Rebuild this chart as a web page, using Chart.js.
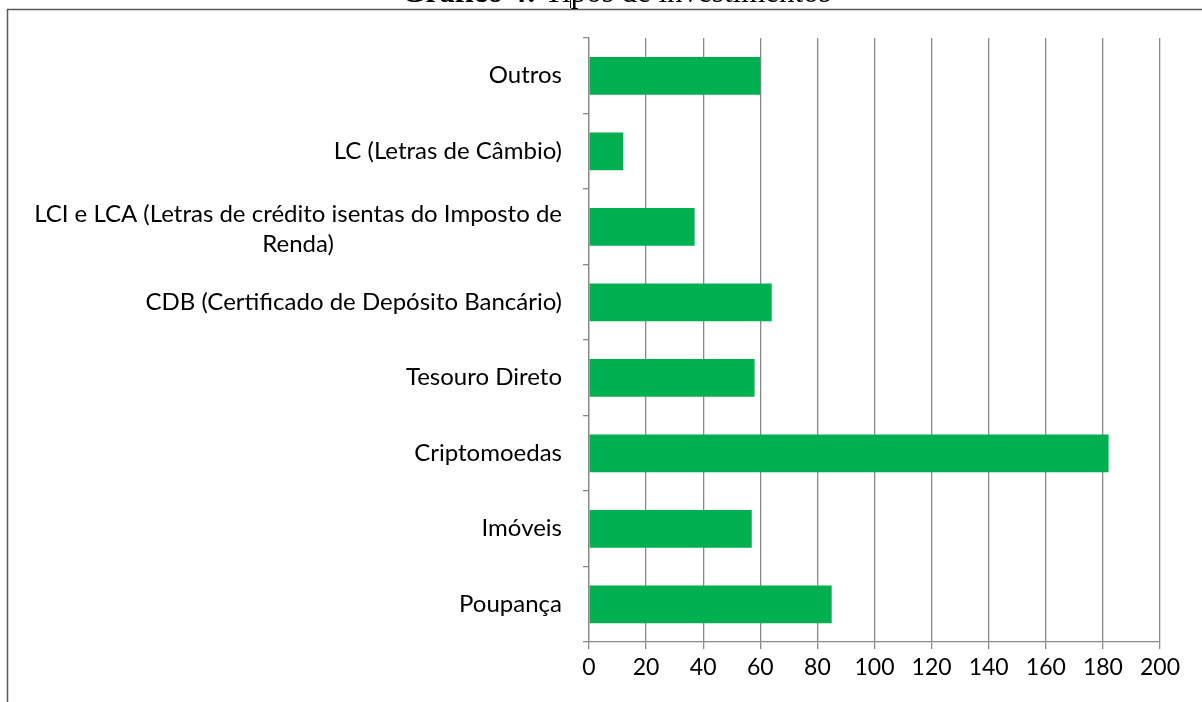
<!DOCTYPE html>
<html>
<head>
<meta charset="utf-8">
<script src="https://cdn.jsdelivr.net/npm/chart.js@4.4.0/dist/chart.umd.min.js"></script>
<style>
html,body{margin:0;padding:0;background:#fff;overflow:hidden}
#wrap{width:1202px;height:702px;position:relative}
</style>
</head>
<body>
<div id="wrap"><canvas id="c" width="1202" height="702"></canvas></div>
<script>
// Data (Excel order: first category at bottom)
const categories = [
  'Poupança',
  'Imóveis',
  'Criptomoedas',
  'Tesouro Direto',
  'CDB (Certificado de Depósito Bancário)',
  ['LCI e LCA (Letras de crédito isentas do Imposto de', 'Renda)'],
  'LC (Letras de Câmbio)',
  'Outros'
];
const values = [85, 57, 182, 58, 64, 37, 12, 60];
const xTickMin = 0;
const xTickMax = 200;
const xTickStep = 20;
const titleBold = 'Gráfico 4:';
const titleRest = ' Tipos de investimentos';

const LABEL_FONT = '24px Lato';
const GRID = '#898989';

const framePlugin = {
  id: 'frame',
  beforeDraw(chart) {
    const ctx = chart.ctx;
    ctx.save();
    ctx.fillStyle = '#fff';
    ctx.fillRect(0, 0, chart.width, chart.height);
    // document frame
    ctx.strokeStyle = '#5a5a5a';
    ctx.lineWidth = 1.5;
    ctx.beginPath();
    ctx.moveTo(7.5, chart.height);
    ctx.lineTo(7.5, 9.5);
    ctx.lineTo(chart.width, 9.5);
    ctx.stroke();
    // title (mostly cut off at top)
    ctx.fillStyle = '#000';
    ctx.textBaseline = 'alphabetic';
    ctx.font = 'bold 31px "Liberation Serif"';
    const wb = ctx.measureText(titleBold).width;
    ctx.font = '31px "Liberation Serif"';
    const wr = ctx.measureText(titleRest).width;
    const cx = 616;
    const x0 = cx - (wb + wr) / 2;
    ctx.font = 'bold 31px "Liberation Serif"';
    ctx.textAlign = 'left';
    ctx.fillText(titleBold, x0, 2);
    ctx.font = '31px "Liberation Serif"';
    ctx.fillText(titleRest, x0 + wb, 2);
    // text cursor mark
    ctx.strokeStyle = '#000';
    ctx.lineWidth = 1;
    ctx.beginPath();
    ctx.moveTo(570.5, 0);
    ctx.lineTo(570.5, 8);
    ctx.stroke();
    ctx.restore();
  },
  afterDraw(chart) {
    const ctx = chart.ctx;
    const ys = chart.scales.y;
    const labels = ys.getLabels();
    ctx.save();
    ctx.font = LABEL_FONT;
    ctx.fillStyle = '#000';
    ctx.textBaseline = 'middle';
    ctx.textAlign = 'center';
    const right = ys.right - 27;
    const lineH = 30;
    labels.forEach((lab, i) => {
      const lines = Array.isArray(lab) ? lab : [lab];
      const y = ys.getPixelForTick(i) + (lines.length > 1 ? 3 : 0);
      let widest = 0;
      lines.forEach(l => { widest = Math.max(widest, ctx.measureText(l).width); });
      const cx = right - widest / 2;
      lines.forEach((l, j) => {
        ctx.fillText(l, cx, y + (j - (lines.length - 1) / 2) * lineH);
      });
    });
    ctx.restore();
  }
};

new Chart(document.getElementById('c'), {
  type: 'bar',
  data: {
    labels: categories,
    datasets: [{
      data: values,
      backgroundColor: '#00B050',
      borderWidth: 0,
      barPercentage: 0.5,
      categoryPercentage: 1.0
    }]
  },
  options: {
    indexAxis: 'y',
    responsive: false,
    animation: false,
    devicePixelRatio: 1,
    layout: { padding: { left: 0, right: 42, top: 38, bottom: 0 } },
    plugins: {
      legend: { display: false },
      title: { display: false },
      tooltip: { enabled: false }
    },
    scales: {
      x: {
        type: 'linear',
        position: 'bottom',
        min: xTickMin,
        max: xTickMax,
        ticks: {
          stepSize: xTickStep,
          color: '#000',
          font: { family: 'Lato', size: 23 },
          padding: 5,
          maxRotation: 0
        },
        grid: { color: GRID, lineWidth: 1.3, tickLength: 7, drawOnChartArea: true },
        border: { color: GRID, width: 1.3 },
        afterFit(s) { s.height = 60; }
      },
      y: {
        type: 'category',
        reverse: true,
        offset: true,
        ticks: { display: false },
        grid: { offset: true, drawOnChartArea: false, drawTicks: true, tickLength: 6, color: GRID, lineWidth: 1.3 },
        border: { color: GRID, width: 1.3 },
        afterFit(s) { s.width = 589; }
      }
    }
  },
  plugins: [framePlugin]
});
</script>
</body>
</html>
